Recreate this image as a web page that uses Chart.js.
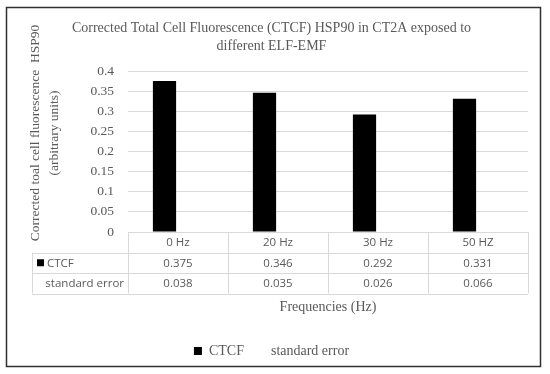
<!DOCTYPE html>
<html>
<head>
<meta charset="utf-8">
<script src="https://cdn.jsdelivr.net/npm/chart.js@4.4.0/dist/chart.umd.min.js"></script>
<style>
html,body{margin:0;padding:0;background:#fff;}
#wrap{width:550px;height:374px;position:relative;}
</style>
</head>
<body>
<div id="wrap"><canvas id="c" width="550" height="374"></canvas></div>
<script>
const categories = ['0 Hz', '20 Hz', '30 Hz', '50 HZ'];
const ctcfValues = [0.375, 0.346, 0.292, 0.331];
const stdErrorValues = [0.038, 0.035, 0.026, 0.066];
const ctcfLabels = ['0.375', '0.346', '0.292', '0.331'];
const stdErrorLabels = ['0.038', '0.035', '0.026', '0.066'];
const yTickValues = [0, 0.05, 0.1, 0.15, 0.2, 0.25, 0.3, 0.35, 0.4];
const seriesNames = ['CTCF', 'standard error'];
const titleLines = ['Corrected Total Cell Fluorescence (CTCF) HSP90 in CT2A exposed to', 'different ELF-EMF'];
const yTitleLines = ['Corrected toal cell fluorescence  HSP90', '(arbitrary units)'];
const xTitle = 'Frequencies (Hz)';

const GRAY = '#595959';
const LINE = '#d9d9d9';
const SERIF = '"Liberation Serif", "DejaVu Serif", serif';
const SANS = '"Open Sans", "Liberation Sans", sans-serif';

const framePlugin = {
  id: 'frame',
  beforeDraw(chart) {
    const ctx = chart.ctx;
    ctx.save();
    ctx.fillStyle = '#fff';
    ctx.fillRect(0, 0, chart.width, chart.height);
    ctx.strokeStyle = '#303030';
    ctx.lineWidth = 1.5;
    ctx.strokeRect(6.5, 7.5, 534, 359);
    ctx.restore();
  }
};

const tablePlugin = {
  id: 'dataTable',
  afterDraw(chart) {
    const ctx = chart.ctx;
    const x = chart.scales.x;
    const ca = chart.chartArea;
    const half = (x.getPixelForValue(1) - x.getPixelForValue(0)) / 2;
    const left = x.getPixelForValue(0) - half;
    const right = x.getPixelForValue(categories.length - 1) + half;
    const tableLeft = 32;
    const top = ca.bottom;
    const r1 = top + 20.5, r2 = top + 41, r3 = top + 61.5;
    ctx.save();
    ctx.strokeStyle = LINE;
    ctx.lineWidth = 1;
    ctx.beginPath();
    ctx.moveTo(left, Math.round(top) + 0.5); ctx.lineTo(right, Math.round(top) + 0.5);
    [r1, r2, r3].forEach(y => { ctx.moveTo(tableLeft, Math.round(y) + 0.5); ctx.lineTo(right, Math.round(y) + 0.5); });
    for (let i = 0; i <= categories.length; i++) {
      const xx = Math.round(left + i * 2 * half) + 0.5;
      ctx.moveTo(xx, top); ctx.lineTo(xx, r3);
    }
    ctx.moveTo(tableLeft + 0.5, r1); ctx.lineTo(tableLeft + 0.5, r3);
    ctx.stroke();

    ctx.fillStyle = GRAY;
    ctx.font = '11.5px ' + SANS;
    ctx.textBaseline = 'middle';
    ctx.textAlign = 'center';
    categories.forEach((c, i) => {
      const cx = x.getPixelForValue(i);
      ctx.fillText(c, cx, (top + r1) / 2 + 0.5);
      ctx.fillText(ctcfLabels[i], cx, (r1 + r2) / 2 + 0.5);
      ctx.fillText(stdErrorLabels[i], cx, (r2 + r3) / 2 + 0.5);
    });
    // row headers
    ctx.fillStyle = '#000';
    ctx.fillRect(37, (r1 + r2) / 2 - 3.5, 7, 7);
    ctx.fillStyle = GRAY;
    ctx.textAlign = 'left';
    ctx.fillText(seriesNames[0], 47, (r1 + r2) / 2 + 0.5);
    ctx.textAlign = 'right';
    ctx.fillText(seriesNames[1], left - 4, (r2 + r3) / 2 + 0.5);

    // x axis title
    ctx.font = '14px ' + SERIF;
    ctx.textAlign = 'center';
    ctx.fillText(xTitle, (ca.left + ca.right) / 2, 307);

    // y axis title
    ctx.font = '13.5px ' + SERIF;
    ctx.translate(35, 133);
    ctx.rotate(-Math.PI / 2);
    ctx.fillText(yTitleLines[0], 0, 0);
    ctx.fillText(yTitleLines[1], 0, 19);
    ctx.restore();
  }
};

new Chart(document.getElementById('c'), {
  type: 'bar',
  data: {
    labels: categories,
    datasets: [
      { label: seriesNames[0], data: ctcfValues, backgroundColor: '#000', borderWidth: 0,
        categoryPercentage: 0.54, barPercentage: 0.86 },
      { label: seriesNames[1], data: stdErrorValues, backgroundColor: 'rgba(0,0,0,0)', borderWidth: 0,
        categoryPercentage: 0.54, barPercentage: 0.86 }
    ]
  },
  options: {
    responsive: false,
    animation: false,
    devicePixelRatio: 1,
    layout: { padding: { left: 15, right: 22, top: 0, bottom: 6 } },
    plugins: {
      title: {
        display: true,
        text: titleLines,
        color: GRAY,
        font: { family: SERIF, size: 14, weight: 'normal', lineHeight: 1.286 },
        padding: { top: 19, bottom: 16 }
      },
      legend: {
        display: true,
        position: 'bottom',
        labels: {
          color: GRAY,
          boxWidth: 8,
          boxHeight: 8,
          padding: 12,
          font: { family: SERIF, size: 14 },
          generateLabels(chart) {
            return chart.data.datasets.map((d, i) => ({
              text: d.label,
              fillStyle: d.backgroundColor,
              strokeStyle: 'rgba(0,0,0,0)',
              lineWidth: 0,
              fontColor: GRAY,
              datasetIndex: i,
              hidden: false
            }));
          }
        }
      },
      tooltip: { enabled: false }
    },
    scales: {
      x: {
        grid: { display: false, drawTicks: false },
        border: { display: false },
        ticks: { display: false },
        afterFit(scale) { scale.height = 100; }
      },
      y: {
        min: 0,
        max: 0.4,
        afterBuildTicks(scale) { scale.ticks = yTickValues.map(v => ({ value: v })); },
        afterFit(scale) { scale.width = 113; },
        grid: { color: LINE, lineWidth: 1, drawTicks: false },
        border: { display: false },
        ticks: {
          color: GRAY,
          padding: 14,
          font: { family: SERIF, size: 13.5 },
          callback: v => String(v)
        }
      }
    }
  },
  plugins: [framePlugin, tablePlugin]
});
</script>
</body>
</html>
